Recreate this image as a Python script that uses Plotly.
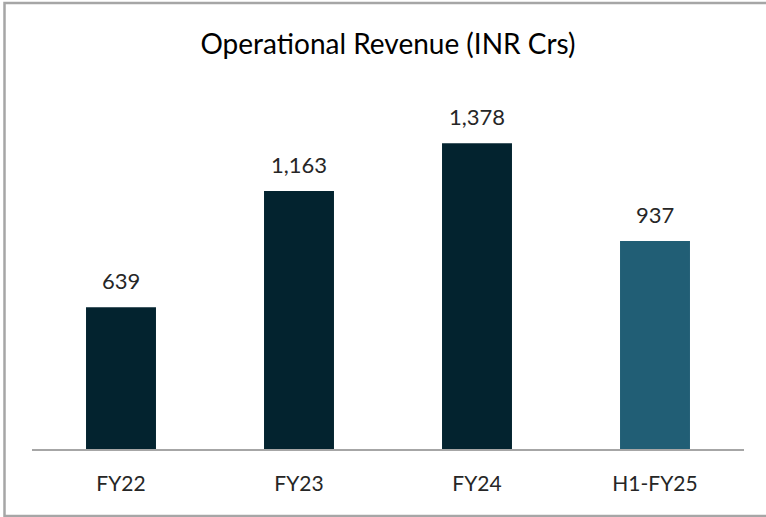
import plotly.graph_objects as go

categories = ["FY22", "FY23", "FY24", "H1-FY25"]
revenue = [639, 1163, 1378, 937]
bar_colors = ["#03232F", "#03232F", "#03232F", "#215E75"]
labels = ["639", "1,163", "1,378", "937"]

W, H = 766, 517
ml, mr, mt, mb = 32, 22, 94, 68
pw, ph = W - ml - mr, H - mt - mb

def px_x(p):
    return (p - ml) / pw

def px_y(p):
    return (H - mb - p) / ph

FONT = "Lato, Carlito, sans-serif"

fig = go.Figure()
fig.add_trace(go.Bar(
    x=categories, y=revenue,
    marker=dict(color=bar_colors, line=dict(width=0)),
    hoverinfo="skip",
))

for c, v, t in zip(categories, revenue, labels):
    fig.add_annotation(
        x=c, y=v, text=t, showarrow=False, yanchor="bottom", yshift=11,
        font=dict(family=FONT, size=22, color="#262626"),
    )

# outer frame drawn as one open path (left, top, bottom edges)
fig.add_shape(
    type="path", xref="paper", yref="paper", layer="above",
    path=(f"M {px_x(766)},{px_y(3)} L {px_x(4.5)},{px_y(3)} "
          f"L {px_x(4.5)},{px_y(516)} L {px_x(766)},{px_y(516)}"),
    line=dict(color="#A6A6A6", width=2.5),
)

fig.update_layout(
    width=W, height=H,
    margin=dict(l=ml, r=mr, t=mt, b=mb),
    paper_bgcolor="white", plot_bgcolor="white",
    title=dict(text="Operational Revenue (INR Crs)", x=0.5, xref="paper", xanchor="center",
               y=1 - 44 / H, yanchor="middle",
               font=dict(family=FONT, size=28, color="#000000")),
    bargap=0.607,
    showlegend=False,
    xaxis=dict(showline=True, linecolor="#A6A6A6", linewidth=2, ticks="", showgrid=False,
               tickfont=dict(family=FONT, size=21, color="#262626"),
               ticklabelstandoff=15),
    yaxis=dict(range=[0, 1600], visible=False, showgrid=False, zeroline=False),
)

fig.write_html("out.html", config={"displayModeBar": False},
               post_script="document.body.style.margin='0';document.body.style.overflow='hidden';")
